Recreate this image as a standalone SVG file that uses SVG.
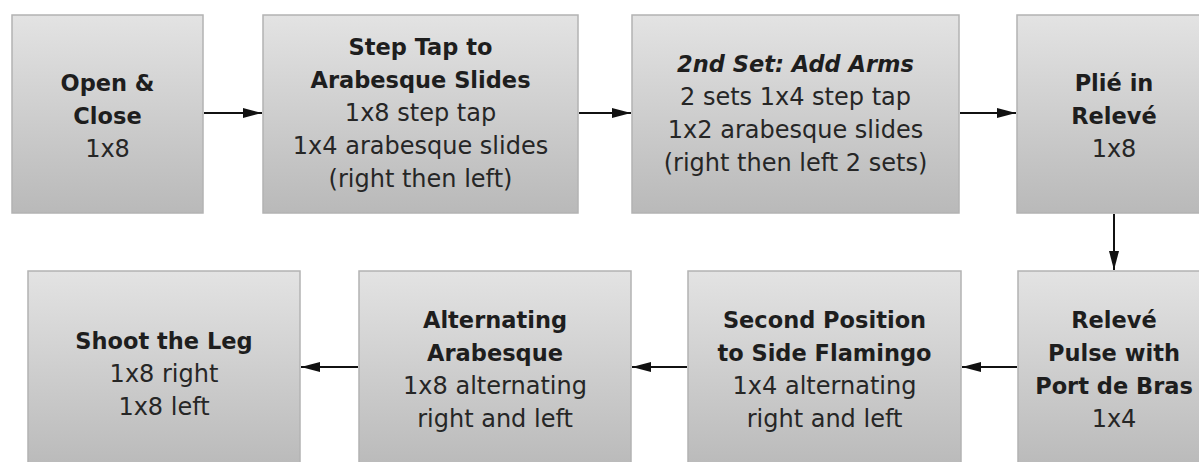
<svg xmlns="http://www.w3.org/2000/svg" width="1199" height="462" viewBox="0 0 1199 462">
  <defs>
    <linearGradient id="boxFill" x1="0" y1="0" x2="0" y2="1">
      <stop offset="0" stop-color="#e3e3e3"/>
      <stop offset="1" stop-color="#b9b9b9"/>
    </linearGradient>
    <marker id="arrowHead" markerUnits="userSpaceOnUse" markerWidth="20" markerHeight="12" refX="19" refY="6" orient="auto">
      <path d="M0,1 L19,6 L0,11 Z" fill="#111"/>
    </marker>
    <style>
      .box { fill: url(#boxFill); stroke: #b3b3b3; stroke-width: 1.5; }
      .t { font-family: "DejaVu Sans", "Liberation Sans", sans-serif; text-anchor: middle; fill: #262626; font-size: 24px; }
      .b { font-weight: bold; font-size: 22.5px; fill: #1e1e1e; }
      .i { font-style: italic; font-weight: bold; font-size: 22.5px; fill: #1e1e1e; }
      .edge { stroke: #111; stroke-width: 2; fill: none; marker-end: url(#arrowHead); }
    </style>
  </defs>
  <rect width="1199" height="462" fill="#fff"/>

  <!-- row 1 -->
  <g id="open-close">
    <rect class="box" x="12" y="15" width="191" height="198"/>
    <text class="t b" x="107.5" y="91">Open &amp;</text>
    <text class="t b" x="107.5" y="124">Close</text>
    <text class="t" x="107.5" y="157">1x8</text>
  </g>
  <g id="step-tap">
    <rect class="box" x="263" y="15" width="315" height="198"/>
    <text class="t b" x="420.5" y="55">Step Tap to</text>
    <text class="t b" x="420.5" y="88">Arabesque Slides</text>
    <text class="t" x="420.5" y="121">1x8 step tap</text>
    <text class="t" x="420.5" y="154">1x4 arabesque slides</text>
    <text class="t" x="420.5" y="187">(right then left)</text>
  </g>
  <g id="second-set">
    <rect class="box" x="632" y="15" width="327" height="198"/>
    <text class="t i" x="795.5" y="72">2nd Set: Add Arms</text>
    <text class="t" x="795.5" y="105">2 sets 1x4 step tap</text>
    <text class="t" x="795.5" y="138">1x2 arabesque slides</text>
    <text class="t" x="795.5" y="171">(right then left 2 sets)</text>
  </g>
  <g id="plie-releve">
    <rect class="box" x="1017" y="15" width="195" height="198"/>
    <text class="t b" x="1114" y="91">Plié in</text>
    <text class="t b" x="1114" y="124">Relevé</text>
    <text class="t" x="1114" y="157">1x8</text>
  </g>

  <!-- row 2 -->
  <g id="releve-pulse">
    <rect class="box" x="1018" y="271" width="195" height="200"/>
    <text class="t b" x="1114" y="328">Relevé</text>
    <text class="t b" x="1114" y="361">Pulse with</text>
    <text class="t b" x="1114" y="394">Port de Bras</text>
    <text class="t" x="1114" y="427">1x4</text>
  </g>
  <g id="side-flamingo">
    <rect class="box" x="688" y="271" width="273" height="200"/>
    <text class="t b" x="824.5" y="328">Second Position</text>
    <text class="t b" x="824.5" y="361">to Side Flamingo</text>
    <text class="t" x="824.5" y="394">1x4 alternating</text>
    <text class="t" x="824.5" y="427">right and left</text>
  </g>
  <g id="alternating-arabesque">
    <rect class="box" x="359" y="271" width="272" height="200"/>
    <text class="t b" x="495" y="328">Alternating</text>
    <text class="t b" x="495" y="361">Arabesque</text>
    <text class="t" x="495" y="394">1x8 alternating</text>
    <text class="t" x="495" y="427">right and left</text>
  </g>
  <g id="shoot-leg">
    <rect class="box" x="28" y="271" width="272" height="200"/>
    <text class="t b" x="164" y="349">Shoot the Leg</text>
    <text class="t" x="164" y="382">1x8 right</text>
    <text class="t" x="164" y="415">1x8 left</text>
  </g>

  <!-- connectors -->
  <g id="connectors">
    <line class="edge" x1="204" y1="113" x2="262" y2="113"/>
    <line class="edge" x1="579" y1="113" x2="631" y2="113"/>
    <line class="edge" x1="960" y1="113" x2="1016" y2="113"/>
    <line class="edge" x1="1114" y1="214" x2="1114" y2="270"/>
    <line class="edge" x1="1017" y1="367" x2="962" y2="367"/>
    <line class="edge" x1="687" y1="367" x2="632" y2="367"/>
    <line class="edge" x1="358" y1="367" x2="301" y2="367"/>
  </g>
</svg>
